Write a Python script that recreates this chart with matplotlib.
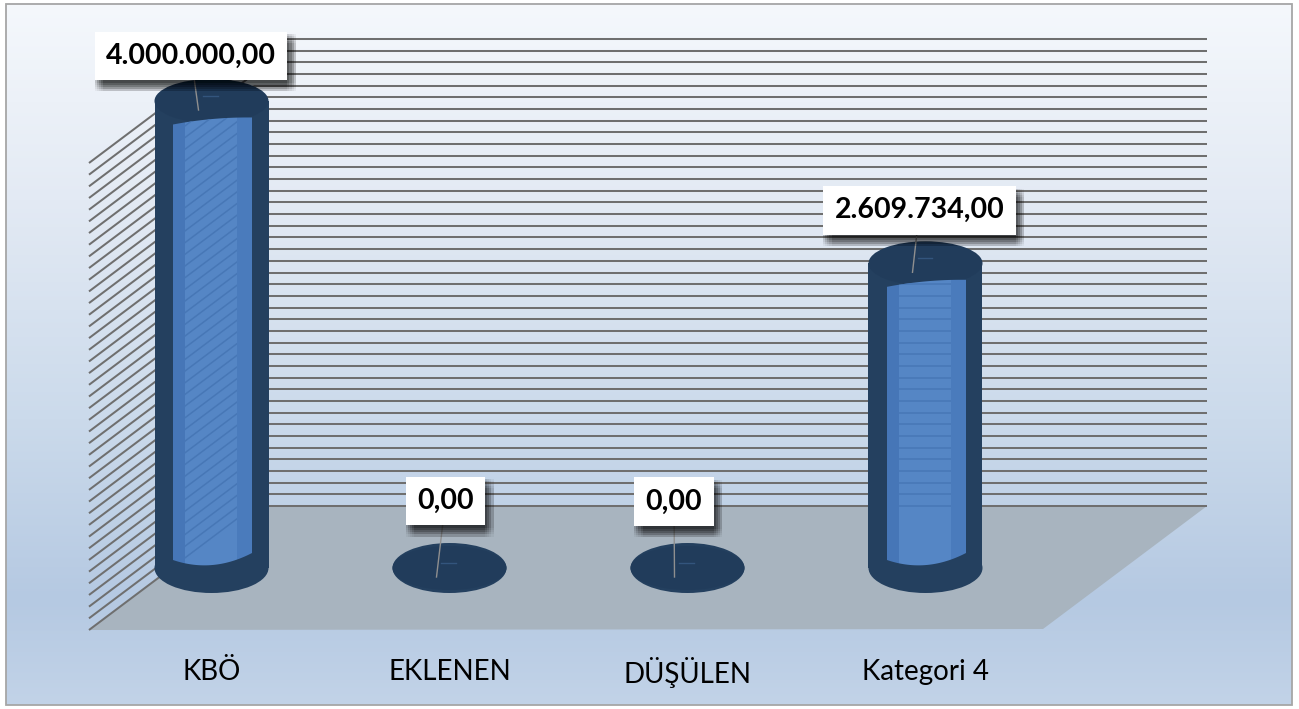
import numpy as np
import matplotlib
matplotlib.use('Agg')
import matplotlib.pyplot as plt
from matplotlib.patches import Polygon, Ellipse, Rectangle
import matplotlib.patheffects as pe
from matplotlib.colors import to_rgb

# ---------------- data ----------------
categories = ['KBÖ', 'EKLENEN', 'DÜŞÜLEN', 'Kategori 4']
values = [4000000.00, 0.00, 0.00, 2609734.00]
axis_max = 4000000
major_unit = 100000

# ---------------- layout (pixels) ----------------
W, H = 1299, 709
CX0, DCX = 211.5, 238.0     # first category centre, category spacing
Y0_PX, TOP_PX = 568.0, 101.0  # value 0 and axis_max at mid depth
vpp = axis_max / (Y0_PX - TOP_PX)   # value per pixel
xpp = 1.0 / DCX

fig = plt.figure(figsize=(W / 100, H / 100), dpi=100)
fig.patch.set_facecolor('white')
ax = fig.add_axes([0, 0, 1, 1])
ax.axis('off')


def X(px):
    return (px - CX0) * xpp


def Y(py):
    return (Y0_PX - py) * vpp


FONT = 'Lato'

# background gradient inside chart border
stops_y = [4, 200, 420, 600, 705]
stops_c = ['#f5f8fc', '#e3eaf4', '#cbdaeb', '#b5c9e2', '#c2d3e8']
ys = np.linspace(4, 705, 400)
cols = np.array([to_rgb(c) for c in stops_c])
grad = np.stack([np.interp(ys, stops_y, cols[:, k]) for k in range(3)], axis=-1)[:, None, :]
ax.imshow(grad, extent=[X(6), X(1292), Y(705), Y(4)], aspect='auto', zorder=0,
          interpolation='bilinear')
ax.add_patch(Rectangle((X(6), Y(705)), X(1292) - X(6), Y(4) - Y(705), fill=False,
                       ec='#a6a6a6', lw=1.3, zorder=20))

# floor
ax.add_patch(Polygon([(X(254), Y(506)), (X(1207), Y(506)), (X(1043), Y(629)), (X(89), Y(630))],
                     closed=True, fc='#a8b4bf', ec='none', zorder=1))

# gridlines on back wall and side wall
ticks = np.arange(0, axis_max + major_unit / 2, major_unit)
depth = 62 * vpp
grid_segs = []
for t in ticks:
    grid_segs.append(([X(254), X(1207)], [t + depth, t + depth]))
    grid_segs.append(([X(89), X(254)], [t - depth, t + depth]))
for xs_, ys_ in grid_segs:
    ax.plot(xs_, ys_, color='#6f6f6f', lw=1.45, zorder=2, solid_capstyle='butt')

# cylinders
hw = 57 * xpp
eb, et = 25 * vpp, 22 * vpp
dark = '#24405f'
for i, v in enumerate(values):
    ax.add_patch(Rectangle((i - hw, 0), 2 * hw, v, fc=dark, ec='none', zorder=3))
    ax.add_patch(Ellipse((i, 0), 2 * hw, 2 * eb, fc=dark, ec='none', zorder=3))
    ax.add_patch(Ellipse((i, v), 2 * hw, 2 * et, fc='#213c5b', ec='none', zorder=4))
    ax.plot([i - 8 * xpp, i + 7 * xpp], [v + 5 * vpp, v + 5 * vpp], color='#33557d', lw=1.0, zorder=4.5)
    if v / vpp > 60:
        strips = [(-38.5, -26.5, '#4676b7'), (-26.5, 25.5, '#5586c5'), (25.5, 40.5, '#4a7bbc')]
        for a, b, c in strips:
            tt = np.linspace(a, b, 25)
            t = (tt - 1.0) / 39.5
            top = v - (20 - 3.5 * t - 2 * (1 - t ** 2)) * vpp
            bot = (3 + 3.5 * t + 8.5 * t ** 2) * vpp
            px = i + tt * xpp
            poly = Polygon(list(zip(px, top)) + list(zip(px[::-1], bot[::-1])), closed=True,
                           fc=c, ec='none', zorder=5)
            ax.add_patch(poly)
            if c == '#5586c5':
                for xs_, ys_ in grid_segs:
                    ln, = ax.plot(xs_, ys_, color='#4777b6', lw=1.1, zorder=5.5)
                    ln.set_clip_path(poly)


def fmt(v):
    return f"{v:,.2f}".replace(',', ' ').replace('.', ',').replace(' ', '.')


label_off = [(-20.5, 45), (-4, 67), (-13.5, 66.5), (-6, 53)]
shadow = [pe.SimplePatchShadow(offset=(3 + a, -5 + b), shadow_rgbFace='black', alpha=0.045)
          for a in (-3, -1.5, 0, 1.5, 3) for b in (-3, -1.5, 0, 1.5, 3)] + [pe.Normal()]
for i, v in enumerate(values):
    dx, dy = label_off[i]
    lx, ly = i + dx * xpp, v + dy * vpp
    ax.plot([lx, i - 13 * xpp], [ly, v - 9 * vpp], color='#8f8f8f', lw=1.0, zorder=8)
    txt = ax.text(lx, ly, fmt(v), ha='center', va='center', fontsize=20.5, fontweight='bold',
                  family=FONT, color='black', zorder=10,
                  bbox=dict(boxstyle='square,pad=0.4', fc='white', ec='none'))
    txt.get_bbox_patch().set_path_effects(shadow)

for i, c in enumerate(categories):
    ax.text(i, Y(672), c, ha='center', va='center', fontsize=20, family=FONT, color='black',
            zorder=10)

ax.set_xlim(-CX0 * xpp, (W - CX0) * xpp)
ax.set_ylim((Y0_PX - H) * vpp, Y0_PX * vpp)
fig.savefig('out.png', dpi=100, facecolor='white')
